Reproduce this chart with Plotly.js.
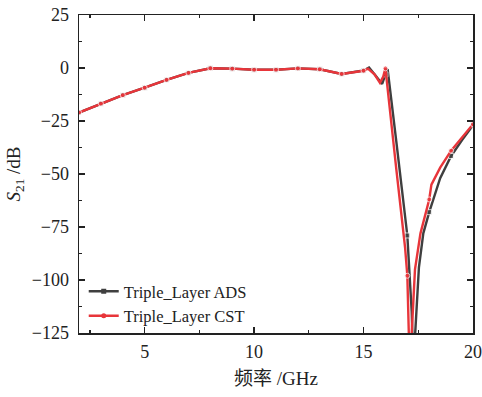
<!DOCTYPE html>
<html>
<head>
<meta charset="utf-8">
<script src="https://cdn.plot.ly/plotly-3.0.1.min.js"></script>
<style>html,body{margin:0;padding:0;background:#fff;}#chart{width:482px;height:397px;}</style>
</head>
<body>
<div id="chart"></div>
<script>
// Triple_Layer ADS (black)
const adsFreq = [2,3,4,5,6,7,8,9,10,11,12,13,14,15,15.25,15.5,15.85,16,16.1,16.5,17,17.2,17.3,17.36,17.53,17.73,18,18.5,19,19.5,20];
const adsS21  = [-21,-16.8,-12.8,-9.3,-5.6,-2.3,-0.1,-0.3,-0.8,-0.8,-0.2,-0.6,-2.8,-1.2,0.2,-3,-7.5,-3,-0.5,-35,-79,-115,-150,-125,-94,-78,-68,-52,-41.5,-34,-27];
// Triple_Layer CST (red)
const cstFreq = [2,3,4,5,6,7,8,9,10,11,12,13,14,15,15.2,15.5,15.75,15.9,16,16.5,16.9,17,17.05,17.13,17.2,17.35,17.6,17.95,18,18.1,18.5,19,19.5,20];
const cstS21  = [-21,-16.8,-12.8,-9.3,-5.6,-2.3,-0.1,-0.3,-0.8,-0.8,-0.2,-0.6,-2.8,-1.3,-0.3,-3,-7,-4,-0.2,-48,-85,-98,-125,-150,-125,-95,-78,-63,-62,-55,-47,-39,-33,-26.5];
const seriesNames = ['Triple_Layer ADS', 'Triple_Layer CST'];
const xTickVals = [5, 10, 15, 20];
const yTickVals = [25, 0, -25, -50, -75, -100, -125];

const colors = ['#3f3f3f', '#e8353a'];
const symbols = ['square', 'circle'];
const data = [];
[[adsFreq, adsS21], [cstFreq, cstS21]].forEach((s, i) => {
  data.push({
    x: s[0], y: s[1], mode: 'lines+markers', showlegend: false,
    line: {color: colors[i], width: 2.4},
    marker: {color: colors[i], symbol: symbols[i], size: s[0].map(f => Number.isInteger(f) ? 5 : 0)},
    cliponaxis: true
  });
});
seriesNames.forEach((n, i) => {
  data.push({
    x: [null], y: [null], name: n, mode: 'lines+markers',
    line: {color: colors[i], width: 2.4},
    marker: {color: colors[i], symbol: symbols[i], size: 5}
  });
});

const serif = 'Liberation Serif, Times New Roman, Noto Sans CJK SC, serif';
const axisCommon = {
  showline: true, linecolor: '#222', linewidth: 1.5, mirror: 'allticks',
  ticks: 'inside', ticklen: 6, tickwidth: 1.3, tickcolor: '#222',
  showgrid: false, zeroline: false,
  tickfont: {family: serif, size: 18, color: '#222'}
};
const layout = {
  width: 482, height: 397,
  margin: {l: 79, r: 9, t: 15, b: 64},
  paper_bgcolor: '#fff', plot_bgcolor: '#fff',
  xaxis: Object.assign({}, axisCommon, {
    range: [2, 20], tickvals: xTickVals, ticktext: xTickVals.map(String),
    ticklabelstandoff: 2,
    minor: {dtick: 2.5, tick0: 0, ticks: 'inside', ticklen: 3, tickwidth: 1.2, tickcolor: '#222'},
    title: {text: '频率 /GHz', font: {family: serif, size: 19, color: '#222'}, standoff: 10}
  }),
  yaxis: Object.assign({}, axisCommon, {
    range: [-125, 25], tickvals: yTickVals, ticktext: yTickVals.map(v => v < 0 ? '\u2212' + Math.abs(v) : String(v)),
    ticklabelstandoff: 5,
    minor: {dtick: 12.5, tick0: 0, ticks: 'inside', ticklen: 3, tickwidth: 1.2, tickcolor: '#222'},
    title: {text: '<i>S</i><sub>21</sub> /dB', font: {family: serif, size: 19, color: '#222'}, standoff: 6}
  }),
  legend: {x: 0.012, y: 0, xanchor: 'left', yanchor: 'bottom', bgcolor: 'rgba(0,0,0,0)',
    font: {family: serif, size: 16.5, color: '#222'}, tracegroupgap: 0, itemwidth: 30},
  showlegend: true
};
Plotly.newPlot('chart', data, layout, {displayModeBar: false, staticPlot: true});
</script>
</body>
</html>
